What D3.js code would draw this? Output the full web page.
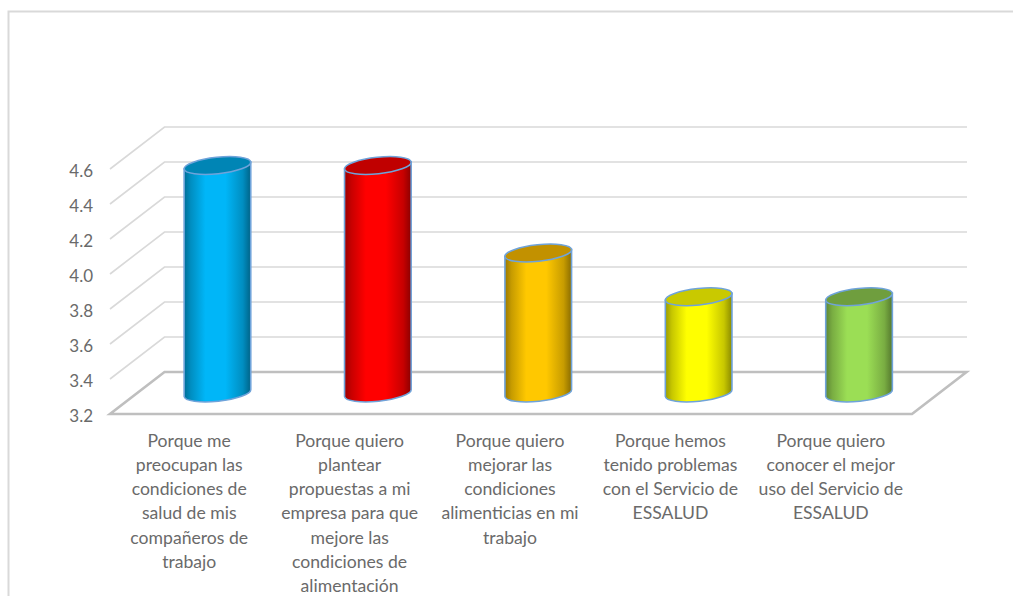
<!DOCTYPE html>
<html><head><meta charset="utf-8">
<style>html,body{margin:0;padding:0;background:#fff}svg{display:block}</style>
<script src="https://cdn.jsdelivr.net/npm/d3@7/dist/d3.min.js"></script></head>
<body><svg id="c" width="1013" height="596"></svg>
<script>
const categories = [
  ["Porque me","preocupan las","condiciones de","salud de mis","compañeros de","trabajo"],
  ["Porque quiero","plantear","propuestas a mi","empresa para que","mejore las","condiciones de","alimentación"],
  ["Porque quiero","mejorar las","condiciones","alimenticias en mi","trabajo"],
  ["Porque hemos","tenido problemas","con el Servicio de","ESSALUD"],
  ["Porque quiero","conocer el mejor","uso del Servicio de","ESSALUD"]
];
const values = [4.5, 4.5, 4.0, 3.75, 3.75];
const sideColors = ["#00B6F8","#FF0000","#FFC800","#FFFF00","#9BDE55"];
const topColors = ["#0085B5","#C00000","#C29100","#C9C900","#6F9E3E"];
const ticks = [3.2,3.4,3.6,3.8,4.0,4.2,4.4,4.6];

const svg = d3.select("#c");
const depth = {dx:54.5, dy:42};
const x = d3.scaleBand().domain(d3.range(values.length)).range([110,912]);
const y = d3.scaleLinear().domain([3.2,4.6]).range([414,169]);
const font = 'Lato, "Open Sans", sans-serif';

// chart frame
svg.append("path").attr("d","M8.5 596V11.5H1013").attr("fill","none").attr("stroke","#d9d9d9").attr("stroke-width",2);

// wall gridlines with their slanted side-wall segment
const grid = svg.append("g").attr("fill","none").attr("stroke","#d9d9d9").attr("stroke-width",1.6);
ticks.slice(1).forEach(t=>{
  grid.append("path").attr("d",d3.line()([[110,y(t)],[110+depth.dx,y(t)-depth.dy],[967,y(t)-depth.dy]]));
});

// floor
svg.append("path")
  .attr("d",d3.line()([[110,y(3.2)],[912,y(3.2)],[912+depth.dx,y(3.2)-depth.dy],[110+depth.dx,y(3.2)-depth.dy]])+"Z")
  .attr("fill","none").attr("stroke","#bfbfbf").attr("stroke-width",2.6);

// tick labels
svg.append("g").selectAll("text").data(ticks).join("text")
  .attr("x",93).attr("y",d=>y(d)+1).attr("text-anchor","end").attr("dominant-baseline","central")
  .attr("font-family",font).attr("font-size",17).attr("fill","#6a6a6a").text(d=>d.toFixed(1));

// shading across each cylinder
const defs = svg.append("defs");
const shade = (c,k)=>d3.rgb(c).darker(k).formatHex();
sideColors.forEach((c,i)=>{
  const g = defs.append("linearGradient").attr("id","side"+i);
  [[0,shade(c,1.4)],[0.1,shade(c,0.7)],[0.32,c],[0.62,c],[0.88,shade(c,0.7)],[1,shade(c,1.7)]]
    .forEach(([o,col])=>g.append("stop").attr("offset",o).attr("stop-color",col));
});

// cylinders: tilted elliptical caps joined by straight sides
const rx = 33.5, ry = 8.3, tilt = -6 * Math.PI/180;
const ex = rx*Math.cos(tilt), ey = rx*Math.sin(tilt);
const deg = tilt*180/Math.PI;
const bars = svg.append("g").selectAll("g").data(values).join("g");
bars.each(function(v,i){
  const g = d3.select(this);
  const cx = x(i)+x.bandwidth()/2+depth.dx/2;
  const yTop = y(v)-depth.dy/2, yBot = y(3.2)-depth.dy/2;
  g.append("path")
    .attr("d",`M${cx-ex} ${yTop-ey}L${cx-ex} ${yBot-ey}A${rx} ${ry} ${deg} 0 0 ${cx+ex} ${yBot+ey}L${cx+ex} ${yTop+ey}Z`)
    .attr("fill",`url(#side${i})`).attr("stroke","#6FA3DA").attr("stroke-width",1.6);
  g.append("ellipse").attr("cx",cx).attr("cy",yTop).attr("rx",rx).attr("ry",ry)
    .attr("transform",`rotate(${deg} ${cx} ${yTop})`)
    .attr("fill",topColors[i]).attr("stroke","#6FA3DA").attr("stroke-width",1.6);
});

// wrapped category labels
const labels = svg.append("g").selectAll("text").data(categories).join("text")
  .attr("text-anchor","middle").attr("font-family",font).attr("font-size",17.6).attr("fill","#6a6a6a");
labels.each(function(lines,i){
  const t = d3.select(this), cx = x(i)+x.bandwidth()/2-1;
  lines.forEach((l,k)=>t.append("tspan").attr("x",cx).attr("y",446.5+k*24.3).text(l));
});
</script></body></html>
